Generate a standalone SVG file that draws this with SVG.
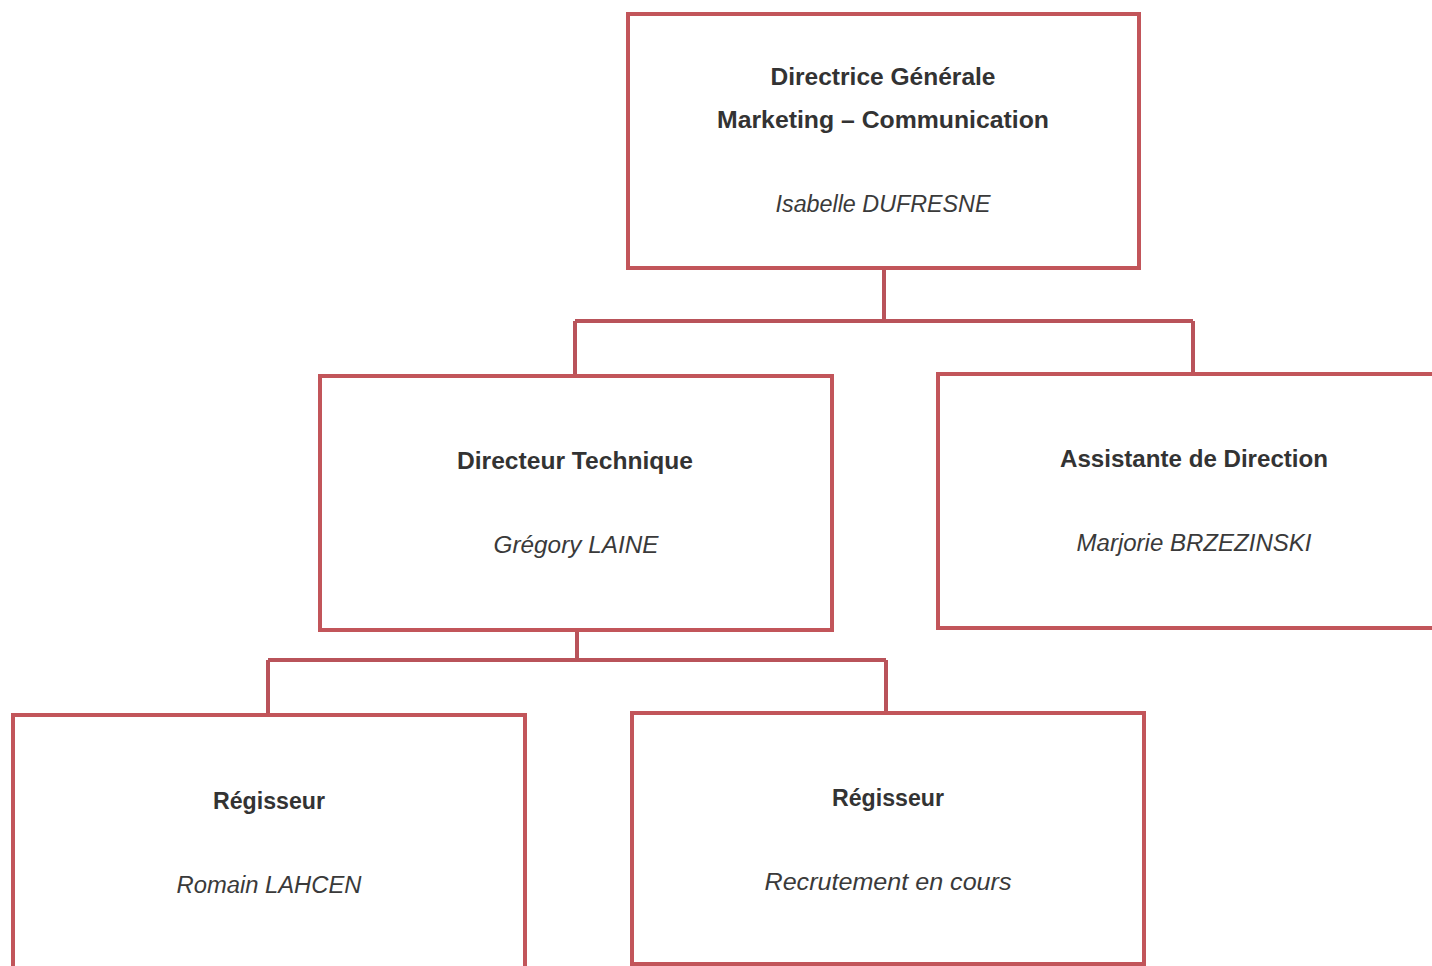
<svg xmlns="http://www.w3.org/2000/svg" width="1432" height="966" viewBox="0 0 1432 966">
<style>
.box{fill:#ffffff;stroke:#c2555a;stroke-width:4}
.con{fill:none;stroke:#b9535a;stroke-width:4}
.t{font-family:"Liberation Sans",Arial,sans-serif;font-weight:bold;font-size:23px;fill:#333333;text-anchor:middle}
.n{font-family:"Liberation Sans",Arial,sans-serif;font-style:italic;font-size:23px;fill:#3a3a3a;text-anchor:middle}
</style>
<rect width="1432" height="966" fill="#ffffff"/>
<g id="connectors">
<path class="con" d="M884 268 V321 M575 321 H1193 M575 321 V376 M1193 321 V374"/>
<path class="con" d="M577 630 V660 M268 660 H886 M268 660 V715 M886 660 V713"/>
</g>
<g id="n-dg">
<rect class="box" x="628" y="14" width="511" height="254"/>
<text class="t" x="883" y="85" textLength="225" lengthAdjust="spacingAndGlyphs">Directrice Générale</text>
<text class="t" x="883" y="128" textLength="332" lengthAdjust="spacingAndGlyphs">Marketing – Communication</text>
<text class="n" x="883" y="212" textLength="215" lengthAdjust="spacingAndGlyphs">Isabelle DUFRESNE</text>
</g>
<g id="n-dt">
<rect class="box" x="320" y="376" width="512" height="254"/>
<text class="t" x="575" y="469" textLength="236" lengthAdjust="spacingAndGlyphs">Directeur Technique</text>
<text class="n" x="576" y="553" textLength="165" lengthAdjust="spacingAndGlyphs">Grégory LAINE</text>
</g>
<g id="n-ad">
<rect class="box" x="938" y="374" width="520" height="254"/>
<text class="t" x="1194" y="467" textLength="268" lengthAdjust="spacingAndGlyphs">Assistante de Direction</text>
<text class="n" x="1194" y="551" textLength="235" lengthAdjust="spacingAndGlyphs">Marjorie BRZEZINSKI</text>
</g>
<g id="n-reg1">
<rect class="box" x="13" y="715" width="512" height="270"/>
<text class="t" x="269" y="809" textLength="112" lengthAdjust="spacingAndGlyphs">Régisseur</text>
<text class="n" x="269" y="893" textLength="185" lengthAdjust="spacingAndGlyphs">Romain LAHCEN</text>
</g>
<g id="n-reg2">
<rect class="box" x="632" y="713" width="512" height="251"/>
<text class="t" x="888" y="806" textLength="112" lengthAdjust="spacingAndGlyphs">Régisseur</text>
<text class="n" x="888" y="890" textLength="247" lengthAdjust="spacingAndGlyphs">Recrutement en cours</text>
</g>
</svg>
